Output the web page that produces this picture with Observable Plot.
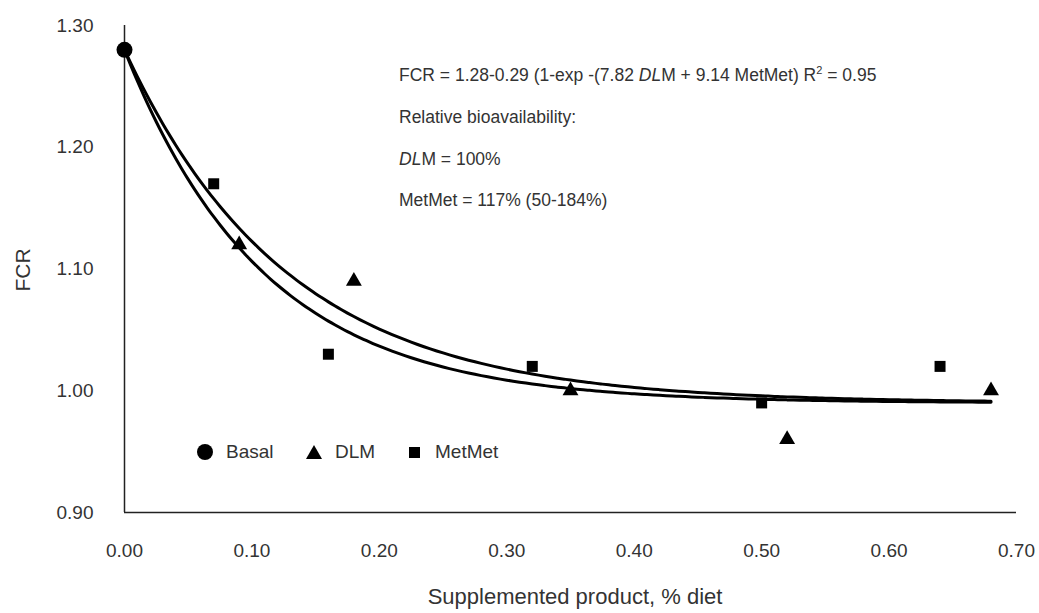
<!DOCTYPE html>
<html><head><meta charset="utf-8">
<script src="https://cdn.jsdelivr.net/npm/d3@7"></script>
<script src="https://cdn.jsdelivr.net/npm/@observablehq/plot@0.6"></script>
<style>
body{margin:0;background:#fff;}
#wrap{position:relative;width:1039px;height:613px;font-family:"Liberation Sans",Arial,sans-serif;color:#333;overflow:hidden}
.t{position:absolute;white-space:nowrap;line-height:1;transform:translateY(-50%);font-size:17.5px}
.lg{position:absolute;}
sup{font-size:11px;vertical-align:7px;line-height:0}
</style></head><body><div id="wrap"></div>
<script>
// ---- data ----
const basalDose = [0];
const basalFCR  = [1.28];
const dlmDose   = [0.09, 0.18, 0.35, 0.52, 0.68];
const dlmFCR    = [1.12, 1.09, 1.00, 0.96, 1.00];
const metDose   = [0.07, 0.16, 0.32, 0.50, 0.64];
const metFCR    = [1.17, 1.03, 1.02, 0.99, 1.02];
const xTicks    = [0, 0.1, 0.2, 0.3, 0.4, 0.5, 0.6, 0.7];
const yTicks    = [0.9, 1.0, 1.1, 1.2, 1.3];
// fitted model printed on the chart: FCR = a - b(1 - exp(-k x))
const fitA = 1.28, fitB = 0.29;
const fitNames = ["DLM", "MetMet"];
const fitK = [7.82, 9.14];
const fitMaxDose = 0.68;

const pts = [
  ...basalDose.map((d,i)=>({x:d,y:basalFCR[i],g:"Basal"})),
  ...dlmDose.map((d,i)=>({x:d,y:dlmFCR[i],g:"DLM"})),
  ...metDose.map((d,i)=>({x:d,y:metFCR[i],g:"MetMet"}))
];
const curves = [];
fitNames.forEach((n,j)=>{
  for (const x of d3.range(0, fitMaxDose + 1e-9, 0.005)) curves.push({x, y: fitA - fitB*(1-Math.exp(-fitK[j]*x)), g:n});
});

const font = '"Liberation Sans", Arial, sans-serif';
const chart = Plot.plot({
  width: 1039, height: 613,
  marginLeft: 124, marginRight: 23, marginTop: 25, marginBottom: 101,
  style: {fontFamily: font, fontSize: "19px", color: "#333", background: "#fff"},
  x: {domain: [0, 0.7], ticks: xTicks, tickFormat: d3.format(".2f"), tickSize: 0, tickPadding: 31, label: null},
  y: {domain: [0.9, 1.3], ticks: yTicks, tickFormat: d3.format(".2f"), tickSize: 0, tickPadding: 31, label: null},
  marks: [
    Plot.ruleX([0], {y1: 0.9, y2: 1.3, stroke: "#222", strokeWidth: 1.5}),
    Plot.ruleY([0.9], {x1: 0, x2: 0.7, stroke: "#222", strokeWidth: 1.5}),
    Plot.line(curves, {x: "x", y: "y", z: "g", stroke: "#000", strokeWidth: 3, curve: "natural"}),
    Plot.dot(pts.filter(d=>d.g==="Basal"), {x:"x", y:"y", r: 8, fill:"#000", symbol:"circle"}),
    Plot.dot(pts.filter(d=>d.g==="DLM"), {x:"x", y:"y", r: 5.9, fill:"#000", symbol:"triangle"}),
    Plot.dot(pts.filter(d=>d.g==="MetMet"), {x:"x", y:"y", r: 6.2, fill:"#000", symbol:"square"})
  ]
});
const wrap = document.getElementById("wrap");
wrap.appendChild(chart);

function add(html, left, top, extra) {
  const d = document.createElement("div");
  d.className = "t"; d.innerHTML = html;
  d.style.left = left + "px"; d.style.top = top + "px";
  if (extra) Object.assign(d.style, extra);
  wrap.appendChild(d);
  return d;
}
add('FCR = 1.28-0.29 (1-exp -(7.82 <i>DL</i>M + 9.14 MetMet) R<sup>2</sup> = 0.95', 399, 76);
add('Relative bioavailability:', 399, 118);
add('<i>DL</i>M = 100%', 399, 160);
add('MetMet = 117% (50-184%)', 399, 201);
// axis titles
add('Supplemented product, % diet', 575, 597, {fontSize: "22px", transform: "translate(-50%,-50%)"});
add('FCR', 22, 270, {fontSize: "21px", transform: "translate(-50%,-50%) rotate(-90deg)"});
// legend
const legend = [
  {name: "Basal", sym: '<circle cx="8" cy="8" r="8" fill="#000"/>', cx: 205, cy: 452, tx: 226},
  {name: "DLM", sym: '<path d="M0,15 L8,1 L16,15 Z" fill="#000"/>', cx: 314, cy: 452, tx: 335},
  {name: "MetMet", sym: '<rect x="2" y="3" width="11" height="11" fill="#000"/>', cx: 415, cy: 452, tx: 435}
];
legend.forEach(l=>{
  const s = document.createElement("div");
  s.className = "lg";
  s.style.left = (l.cx - 8) + "px"; s.style.top = (l.cy - 8) + "px";
  s.innerHTML = `<svg width="16" height="16" viewBox="0 0 16 16">${l.sym}</svg>`;
  wrap.appendChild(s);
  add(l.name, l.tx, l.cy - 1, {fontSize: "19px"});
});
</script></body></html>
